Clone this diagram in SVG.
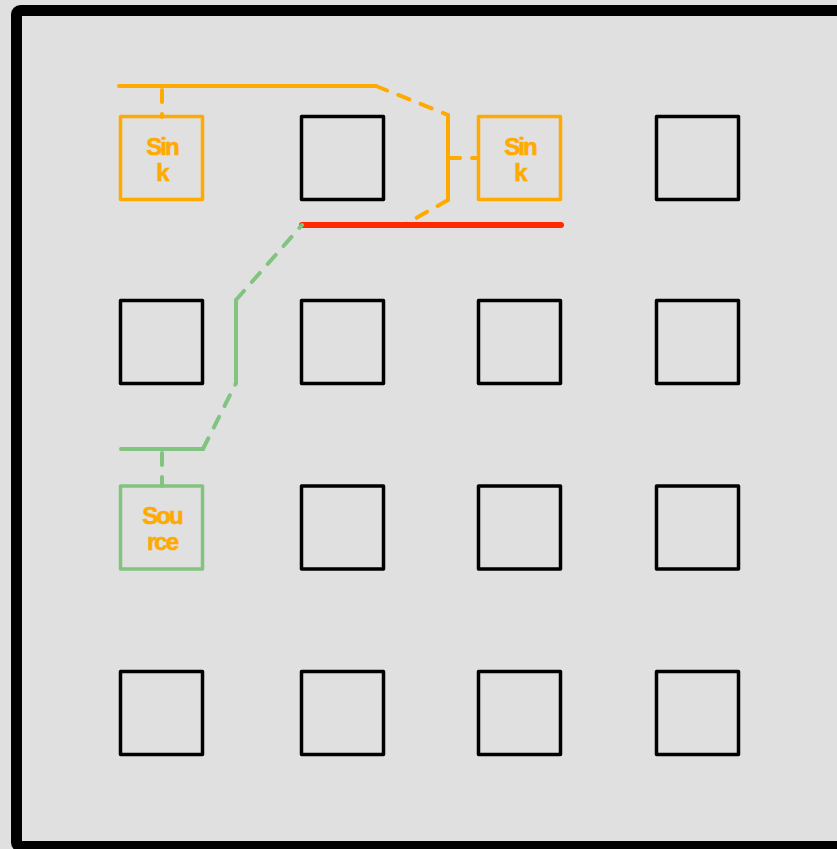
<svg xmlns="http://www.w3.org/2000/svg" width="837" height="849" viewBox="0 0 837 849">
<style>
.box{fill:none;stroke:#000;stroke-width:3.5;stroke-linejoin:round}
.sink{fill:none;stroke:#ffaa00;stroke-width:3.5;stroke-linejoin:round}
.src{fill:none;stroke:#80c480;stroke-width:3.5;stroke-linejoin:round}
.lbl{font-family:"Liberation Sans",Arial,sans-serif;font-weight:bold;font-size:24px;fill:#ffaa00;stroke:#ffaa00;stroke-width:0.6;text-anchor:middle;letter-spacing:-2px}
.o{stroke:#ffaa00;fill:none;stroke-width:4;stroke-linecap:round;stroke-linejoin:round}
.g{stroke:#80c480;fill:none;stroke-width:4;stroke-linecap:round;stroke-linejoin:round}
.d{stroke-dasharray:12,12}
</style>
<rect x="0" y="0" width="837" height="849" fill="#e0e0e0"/>
<rect x="16.5" y="10.5" width="900" height="836" rx="4" fill="#e0e0e0" stroke="#000" stroke-width="11"/>
<g id="connectors">
<line class="o" x1="119" y1="86" x2="376" y2="86" stroke-width="6"/>
<path class="o d" d="M162 90 V117"/>
<path class="o d" d="M376 86 L448 115"/>
<path class="o" d="M448 115 V200" stroke-width="5"/>
<path class="o d" d="M448 200 L404 225"/>
<path class="o d" d="M448 158 H478" stroke-dasharray="12,13"/>
<line x1="302" y1="225" x2="561" y2="225" stroke="#ff2a00" stroke-width="6" stroke-linecap="round"/>
<line class="g" x1="121" y1="449" x2="203" y2="449" stroke-width="6"/>
<path class="g d" d="M162 453 V486"/>
<path class="g d" d="M203 449 L236 383"/>
<path class="g" d="M236 383 V300" stroke-width="5"/>
<path class="g d" d="M236 300 L302 225"/>
</g>
<g id="sink1"><rect class="sink" x="120.5" y="116.5" width="82" height="83"/><text class="lbl" x="162" y="155">Sin</text><text class="lbl" x="162" y="181">k</text></g>
<g id="sink2"><rect class="sink" x="478.5" y="116.5" width="82" height="83"/><text class="lbl" x="520" y="155">Sin</text><text class="lbl" x="520" y="181">k</text></g>
<g id="source"><rect class="src" x="120.5" y="486" width="82" height="83"/><text class="lbl" x="162" y="524">Sou</text><text class="lbl" x="162" y="550">rce</text></g>
<g id="n12"><rect class="box" x="301.5" y="116.5" width="82" height="83"/></g>
<g id="n14"><rect class="box" x="656.5" y="116.5" width="82" height="83"/></g>
<g id="n21"><rect class="box" x="120.5" y="300.5" width="82" height="83"/></g>
<g id="n22"><rect class="box" x="301.5" y="300.5" width="82" height="83"/></g>
<g id="n23"><rect class="box" x="478.5" y="300.5" width="82" height="83"/></g>
<g id="n24"><rect class="box" x="656.5" y="300.5" width="82" height="83"/></g>
<g id="n32"><rect class="box" x="301.5" y="486" width="82" height="83"/></g>
<g id="n33"><rect class="box" x="478.5" y="486" width="82" height="83"/></g>
<g id="n34"><rect class="box" x="656.5" y="486" width="82" height="83"/></g>
<g id="n41"><rect class="box" x="120.5" y="671.5" width="82" height="83"/></g>
<g id="n42"><rect class="box" x="301.5" y="671.5" width="82" height="83"/></g>
<g id="n43"><rect class="box" x="478.5" y="671.5" width="82" height="83"/></g>
<g id="n44"><rect class="box" x="656.5" y="671.5" width="82" height="83"/></g>
</svg>
